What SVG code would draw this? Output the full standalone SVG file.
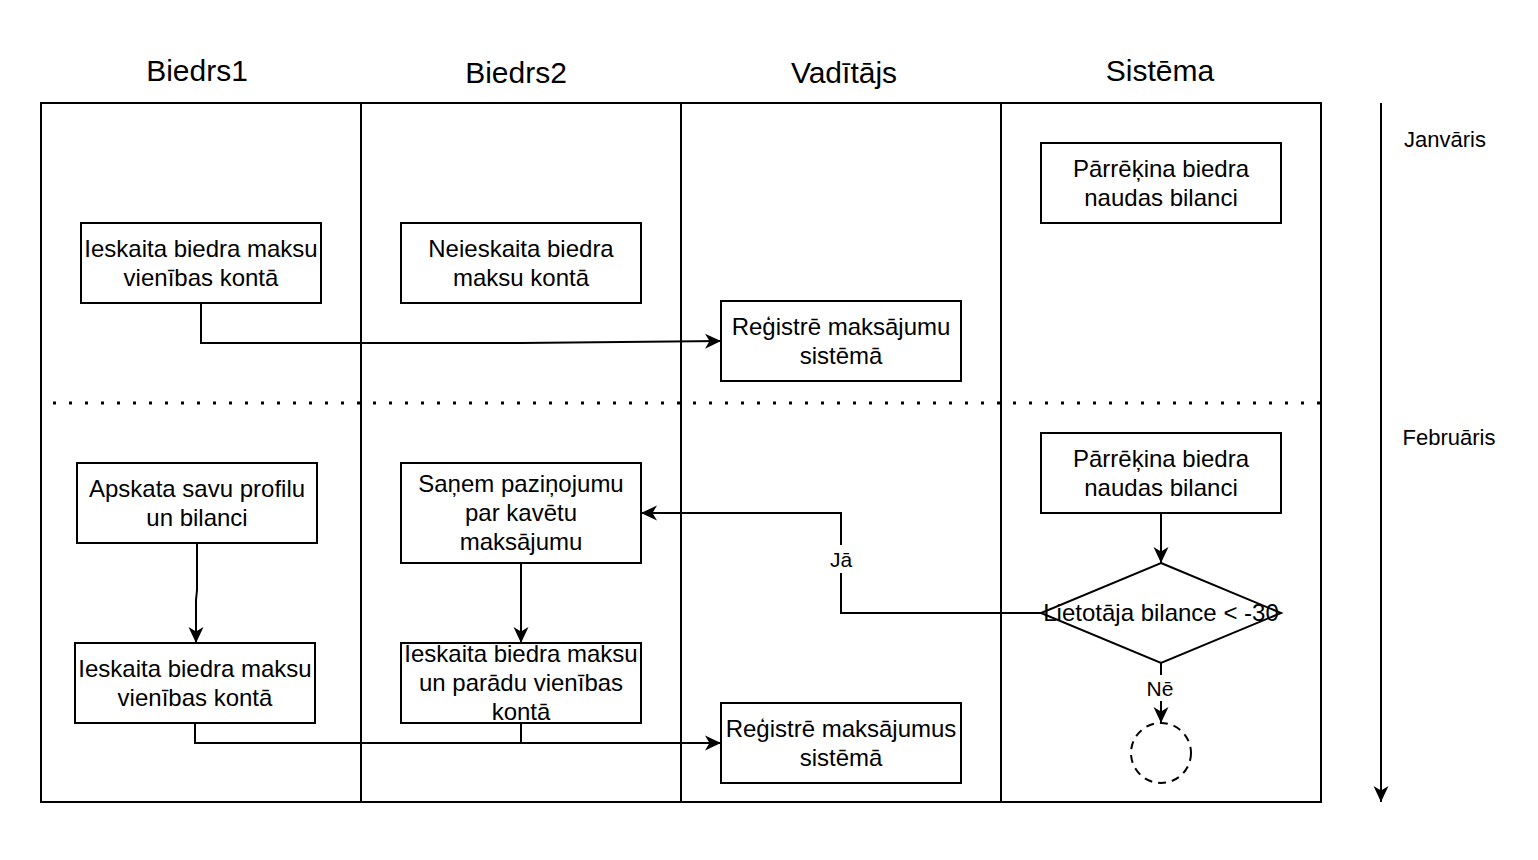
<svg xmlns="http://www.w3.org/2000/svg" width="1538" height="860" viewBox="0 0 1538 860">
<style>
text{font-family:"Liberation Sans",Arial,sans-serif;fill:#000}
.hdr{font-size:30px;text-anchor:middle}
.t{font-size:24px;text-anchor:middle}
.lbl{font-size:21px;text-anchor:middle}
.mon{font-size:22px;text-anchor:middle}
.box{fill:#fff;stroke:#000;stroke-width:2}
.lane{fill:none;stroke:#000;stroke-width:2}
.edge{fill:none;stroke:#000;stroke-width:2;marker-end:url(#arr)}
.plain{fill:none;stroke:#000;stroke-width:2}
</style>
<defs>
<marker id="arr" markerUnits="userSpaceOnUse" markerWidth="16" markerHeight="16" viewBox="0 0 16 16" refX="16" refY="8" orient="auto">
<path d="M0,0.5 L16,8 L0,15.5 L4.5,8 z" fill="#000"/>
</marker>
</defs>
<rect width="1538" height="860" fill="#fff"/>
<g id="lanes">
<rect class="lane" x="41" y="103" width="1280" height="699"/>
<line class="lane" x1="361" y1="103" x2="361" y2="802"/>
<line class="lane" x1="681" y1="103" x2="681" y2="802"/>
<line class="lane" x1="1001" y1="103" x2="1001" y2="802"/>
<line x1="41" y1="403" x2="1321" y2="403" stroke="#000" stroke-width="3" stroke-dasharray="3 13" stroke-dashoffset="4"/>
<text class="hdr" x="197" y="81">Biedrs1</text>
<text class="hdr" x="516" y="83">Biedrs2</text>
<text class="hdr" x="844" y="83">Vadītājs</text>
<text class="hdr" x="1160" y="81">Sistēma</text>
</g>
<g id="timeline">
<line class="edge" x1="1381" y1="103" x2="1381" y2="802"/>
<text class="mon" x="1445" y="147">Janvāris</text>
<text class="mon" x="1449" y="445">Februāris</text>
</g>
<g id="connectors">
<polyline class="edge" points="201,303 201,343 521,343 721,341"/>
<polyline class="edge" points="197,543 197,590 196,600 196,643"/>
<polyline class="edge" points="521,563 521,643"/>
<polyline class="edge" points="195,723 195,743 721,743"/>
<polyline class="plain" points="521,723 521,743"/>
<polyline class="edge" points="1161,513 1161,563"/>
<polyline class="edge" points="1041,613 841,613 841,513 641,513"/>
<polyline class="edge" points="1161,663 1161,723"/>
<rect x="827" y="545" width="28" height="28" fill="#fff"/>
<text class="lbl" x="841" y="567">Jā</text>
<rect x="1145" y="675" width="32" height="26" fill="#fff"/>
<text class="lbl" x="1160" y="696">Nē</text>
</g>
<g id="n1">
<rect class="box" x="81" y="223" width="240" height="80"/>
<text class="t" x="201" y="257">Ieskaita biedra maksu</text>
<text class="t" x="201" y="286">vienības kontā</text>
</g>
<g id="n2">
<rect class="box" x="401" y="223" width="240" height="80"/>
<text class="t" x="521" y="257">Neieskaita biedra</text>
<text class="t" x="521" y="286">maksu kontā</text>
</g>
<g id="n3">
<rect class="box" x="1041" y="143" width="240" height="80"/>
<text class="t" x="1161" y="177">Pārrēķina biedra</text>
<text class="t" x="1161" y="206">naudas bilanci</text>
</g>
<g id="n4">
<rect class="box" x="721" y="301" width="240" height="80"/>
<text class="t" x="841" y="335">Reģistrē maksājumu</text>
<text class="t" x="841" y="364">sistēmā</text>
</g>
<g id="n5">
<rect class="box" x="77" y="463" width="240" height="80"/>
<text class="t" x="197" y="497">Apskata savu profilu</text>
<text class="t" x="197" y="526">un bilanci</text>
</g>
<g id="n6">
<rect class="box" x="401" y="463" width="240" height="100"/>
<text class="t" x="521" y="492">Saņem paziņojumu</text>
<text class="t" x="521" y="521">par kavētu</text>
<text class="t" x="521" y="550">maksājumu</text>
</g>
<g id="n7">
<rect class="box" x="75" y="643" width="240" height="80"/>
<text class="t" x="195" y="677">Ieskaita biedra maksu</text>
<text class="t" x="195" y="706">vienības kontā</text>
</g>
<g id="n8">
<rect class="box" x="401" y="643" width="240" height="80"/>
<text class="t" x="521" y="662">Ieskaita biedra maksu</text>
<text class="t" x="521" y="691">un parādu vienības</text>
<text class="t" x="521" y="720">kontā</text>
</g>
<g id="n9">
<rect class="box" x="721" y="703" width="240" height="80"/>
<text class="t" x="841" y="737">Reģistrē maksājumus</text>
<text class="t" x="841" y="766">sistēmā</text>
</g>
<g id="n10">
<rect class="box" x="1041" y="433" width="240" height="80"/>
<text class="t" x="1161" y="467">Pārrēķina biedra</text>
<text class="t" x="1161" y="496">naudas bilanci</text>
</g>
<g id="n11">
<polygon class="box" points="1161,563 1281,613 1161,663 1041,613"/>
<text class="t" x="1161" y="621">Lietotāja bilance &lt; -30</text>
</g>
<g id="n12">
<circle cx="1161" cy="753" r="30" fill="#fff" stroke="#000" stroke-width="2" stroke-dasharray="8 6"/>
</g>
</svg>
